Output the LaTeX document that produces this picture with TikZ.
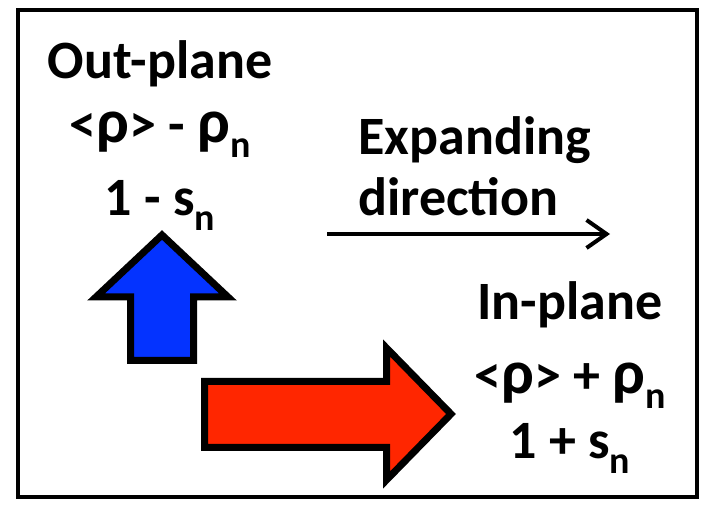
\documentclass[tikz,border=0pt]{standalone}
\usepackage{fontspec}
\setmainfont{Carlito}
\usetikzlibrary{positioning, arrows.meta}
\definecolor{upblue}{HTML}{0433FF}
\definecolor{inred}{HTML}{FF2600}
\newcommand{\lowsub}[1]{\raisebox{-15pt}{\fontsize{38}{38}\selectfont #1}}
\newcommand{\rh}{{\fontsize{62}{62}\selectfont ρ}}

\begin{document}
\begin{tikzpicture}[
    x=1pt, y=1pt,
    word/.style={font=\fontsize{54}{54}\selectfont\bfseries, inner sep=0pt,
    text height=40pt, text depth=14pt, align=center},
    blockarrow/.style={draw=black, line width=7pt, miter limit=10},
    dirarrow/.style={-{Straight Barb[length=20pt, width=28pt]}, line width=4pt},
]
\useasboundingbox (0,0) rectangle (703,505);

\draw[line width=4pt] (18,8) rectangle (697,495);

% out-plane side
\node[word, anchor=base] (outplane) at (160,426) {Out-plane};
\node[word, below=9pt of outplane] (outrho) {<\rh> - \rh\lowsub{n}};
\node[word, below=19pt of outrho] (outs) {1 - s\lowsub{n}};

% in-plane side
\node[word, anchor=base] (inplane) at (570,185) {In-plane};
\node[word, below=19pt of inplane] (inrho) {<\rh> + \rh\lowsub{n}};
\node[word, below=11pt of inrho] (ins) {1 + s\lowsub{n}};

% expanding direction
\node[word, anchor=base west] (expand) at (358,350) {Expanding};
\node[word, below=6pt of expand.south west, anchor=north west] (direction) {direction};
\coordinate (dirstart) at (327,271);
\coordinate (dirend) at (610,271);
\draw[dirarrow] (dirstart) -- (dirend);

% block arrows
\filldraw[blockarrow, fill=upblue] (162,270) -- (228,208) -- (193.5,208) -- (193.5,144.5)
    -- (130.5,144.5) -- (130.5,208) -- (96,208) -- cycle;
\filldraw[blockarrow, fill=inred] (204.5,123.5) -- (386.5,123.5) -- (386.5,157) -- (451,91)
    -- (386.5,25) -- (386.5,57.5) -- (204.5,57.5) -- cycle;

\end{tikzpicture}
\end{document}
